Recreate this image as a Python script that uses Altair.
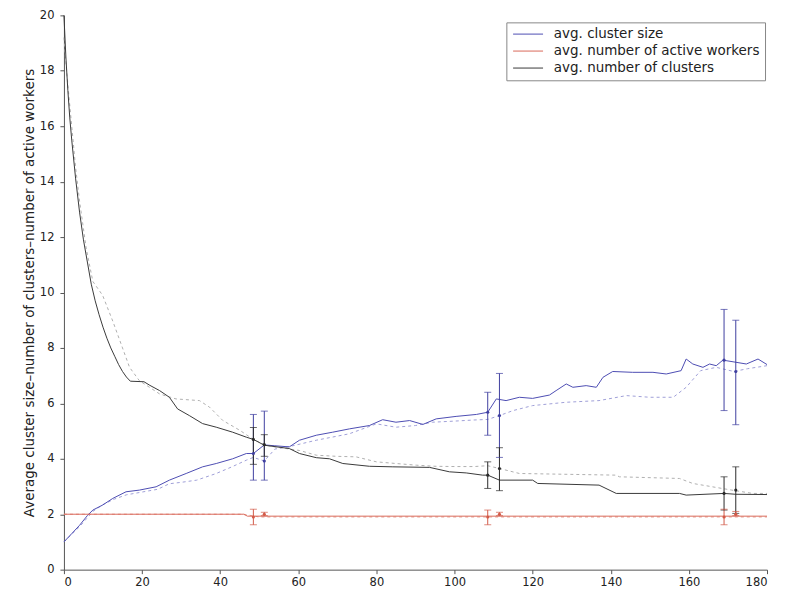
import altair as alt
import pandas as pd

series_names = ["avg. cluster size", "avg. number of active workers", "avg. number of clusters"]
run2_names = ["size run 2", "workers run 2", "clusters run 2"]

# avg. cluster size (solid)
size_x = [0, 2, 4, 6, 7.4, 9.9, 12.5, 15.9, 19.3, 23.6, 27, 31.3, 35.5, 39, 43.2, 46.7, 48.5, 51.3, 54,
          57.7, 60.3, 64.6, 68.8, 73.1, 78.2, 81.6, 85, 88.5, 91.9, 95.3, 100.4, 105.6, 108.5, 110.7,
          113.2, 116.6, 120, 124.3, 126, 128.6, 130.3, 133.7, 136.3, 138, 140.5, 145.6, 150.8, 154.2, 158,
          159.3, 161, 163.6, 165.3, 167, 168.7, 171.3, 174.7, 177.7, 180]
size_y = [1.0, 1.3, 1.6, 1.95, 2.15, 2.33, 2.57, 2.81, 2.87, 2.99, 3.23, 3.47, 3.71, 3.83, 4.0, 4.19, 4.19,
          4.5, 4.47, 4.43, 4.67, 4.85, 4.96, 5.08, 5.2, 5.41, 5.32, 5.38, 5.24, 5.44, 5.53, 5.6, 5.68, 6.16,
          6.1, 6.22, 6.18, 6.3, 6.46, 6.7, 6.58, 6.64, 6.58, 6.94, 7.15, 7.12, 7.12, 7.06, 7.18, 7.6, 7.42,
          7.3, 7.42, 7.36, 7.56, 7.5, 7.42, 7.6, 7.4]

# avg. cluster size (second run, dashed)
size2_x = [0, 4, 7.4, 10, 13, 16, 20, 24, 27, 30, 34, 39, 43, 46.7, 48.5, 51.3, 54, 58, 64.6, 73, 80, 85,
           90, 94.4, 100, 105, 108.5, 111.5, 115, 120, 128.6, 137, 144, 150, 156, 159.3, 163, 167, 171.5,
           175, 180]
size2_y = [1.0, 1.55, 2.1, 2.35, 2.55, 2.7, 2.8, 2.9, 3.1, 3.15, 3.23, 3.47, 3.71, 3.95, 4.05, 3.92, 4.35,
           4.45, 4.67, 4.9, 5.26, 5.14, 5.2, 5.32, 5.36, 5.4, 5.42, 5.56, 5.74, 5.92, 6.04, 6.1, 6.28, 6.22,
           6.22, 6.58, 7.18, 7.3, 7.15, 7.25, 7.36]

# avg. number of clusters (solid)
clus_x = [0, 0.5, 1, 1.5, 2, 3, 4, 5, 6, 7, 8, 9, 10, 11, 12, 13, 14, 15, 16, 17, 20.5, 22, 24.5, 27, 29.1,
          32.1, 35.5, 39, 43.2, 46.7, 48.5, 51.3, 57.7, 60.3, 64.6, 68, 71.4, 78.2, 84.2, 93.6, 98.7, 103,
          107.2, 108.5, 111.5, 120, 121.3, 137, 141.4, 157.6, 159.3, 169, 172, 180]
clus_y = [20, 18.5, 17.3, 16.3, 15.5, 14.1, 12.9, 11.9, 11.1, 10.3, 9.7, 9.2, 8.75, 8.35, 8.0, 7.7, 7.4,
          7.15, 6.95, 6.8, 6.78, 6.65, 6.46, 6.22, 5.8, 5.56, 5.27, 5.14, 4.96, 4.78, 4.7, 4.49, 4.37, 4.19,
          4.04, 4.0, 3.83, 3.73, 3.71, 3.69, 3.53, 3.49, 3.41, 3.41, 3.23, 3.23, 3.11, 3.05, 2.75, 2.75,
          2.69, 2.75, 2.72, 2.71]

# avg. number of clusters (second run, dashed)
clus2_x = [0, 0.5, 1, 2, 3, 4, 5, 5.7, 7.4, 9.9, 12.5, 15, 16.8, 19.3, 24.5, 28.7, 34.7, 37.3, 40.7, 45,
           48.5, 51.3, 53, 60.3, 64.6, 69.7, 74.8, 80, 85, 90.2, 95, 100, 105, 108.5, 111.5, 116.6, 141.4,
           142.2, 157.6, 161, 166, 171, 176.4, 180]
clus2_y = [19.2, 18.3, 17.5, 16.0, 14.5, 13.3, 12.3, 11.6, 10.4, 9.9, 8.97, 8.0, 7.3, 6.82, 6.34, 6.16, 6.1,
           5.86, 5.38, 5.03, 4.7, 4.51, 4.45, 4.3, 4.13, 4.09, 4.07, 3.89, 3.83, 3.77, 3.73, 3.72, 3.72,
           3.75, 3.65, 3.47, 3.41, 3.35, 3.29, 3.11, 2.99, 2.87, 2.75, 2.75]

# avg. number of active workers
work_x = [0, 46, 47, 180]
work_y = [2.0, 2.0, 1.93, 1.93]
work2_x = [0, 46, 50, 180]
work2_y = [2.0, 2.0, 1.9, 1.9]

# error bars
bar_x = [48.5, 51.3, 108.5, 111.5, 169, 172]
bsize_mean = [4.19, 3.92, 5.68, 5.56, 7.56, 7.15]
bsize_lo = [3.23, 3.23, 4.85, 4.05, 5.74, 5.23]
bsize_hi = [5.6, 5.72, 6.4, 7.08, 9.39, 9.0]
bclus_mean = [4.7, 4.51, 3.41, 3.65, 2.75, 2.87]
bclus_lo = [3.8, 4.09, 2.93, 2.85, 2.15, 2.03]
bclus_hi = [5.13, 4.87, 3.89, 4.4, 3.35, 3.71]
bwork_mean = [1.9, 2.0, 1.9, 2.0, 1.9, 2.0]
bwork_lo = [1.62, 1.95, 1.62, 1.95, 1.62, 1.95]
bwork_hi = [2.18, 2.07, 2.15, 2.07, 2.18, 2.1]

x_ticks = [0, 20, 40, 60, 80, 100, 120, 140, 160, 180]
y_ticks = [0, 2, 4, 6, 8, 10, 12, 14, 16, 18, 20]

BLUE, RED, BLACK = "#4d4db3", "#d9695a", "#3a3a3a"
BLUE2, RED2, BLACK2 = "#a0a0d8", "#e8a296", "#b0b0b0"
FONT = "DejaVu Sans"


def frame(xs, ys, name):
    return pd.DataFrame({"x": xs, "v": ys, "series": name})


solid = pd.concat([frame(size_x, size_y, series_names[0]),
                   frame(work_x, work_y, series_names[1]),
                   frame(clus_x, clus_y, series_names[2])])
dashed = pd.concat([frame(size2_x, size2_y, run2_names[0]),
                    frame(work2_x, work2_y, run2_names[1]),
                    frame(clus2_x, clus2_y, run2_names[2])])

bars = pd.concat([
    pd.DataFrame({"x": bar_x, "m": bsize_mean, "lo": bsize_lo, "hi": bsize_hi, "g": "size"}),
    pd.DataFrame({"x": bar_x, "m": bclus_mean, "lo": bclus_lo, "hi": bclus_hi, "g": "clusters"}),
    pd.DataFrame({"x": bar_x, "m": bwork_mean, "lo": bwork_lo, "hi": bwork_hi, "g": "workers"}),
])

xs = alt.Scale(domain=[0, 180], nice=False)
ys = alt.Scale(domain=[0, 20], nice=False)
X = alt.X("x:Q", scale=xs, axis=alt.Axis(values=x_ticks, title=None, grid=False, tickSize=4,
                                         labelPadding=3, labelFont=FONT, labelFontSize=11.5))
Y = alt.Y("v:Q", scale=ys, axis=alt.Axis(values=y_ticks, grid=False, tickSize=4, labelPadding=6,
                                         labelFont=FONT, labelFontSize=11.5,
                                         title="Average cluster size\u2013number of clusters\u2013number of active workers",
                                         titleFont=FONT, titleFontSize=13.5, titleFontWeight="normal",
                                         titlePadding=3, titleColor="#222"))

dash_layer = alt.Chart(dashed).mark_line(strokeWidth=1, strokeDash=[3, 3]).encode(
    x=X, y=Y,
    color=alt.Color("series:N", scale=alt.Scale(domain=run2_names, range=[BLUE2, RED2, BLACK2]), legend=None),
)

solid_layer = alt.Chart(solid).mark_line(strokeWidth=1).encode(
    x=X, y=Y,
    color=alt.Color("series:N", scale=alt.Scale(domain=series_names, range=[BLUE, RED, BLACK]),
                    sort=series_names,
                    legend=alt.Legend(title=None, orient="none", legendX=443, legendY=7,
                                      symbolType="M-1,0H5", symbolSize=100, symbolStrokeWidth=1,
                                      labelOffset=29, labelFont=FONT, labelFontSize=13.5, labelLimit=400,
                                      labelColor="#222", rowPadding=2, padding=5,
                                      strokeColor="#888", fillColor="white")),
)

bar_scale = alt.Scale(domain=["size", "clusters", "workers"], range=["#3f3fa0", "#2a2a2a", "#d25a48"])
bar_color = alt.Color("g:N", scale=bar_scale, legend=None)

rules = alt.Chart(bars).mark_rule(strokeWidth=1).encode(
    x=alt.X("x:Q", scale=xs), y=alt.Y("lo:Q", scale=ys), y2="hi:Q", color=bar_color)
caps_lo = alt.Chart(bars).mark_tick(orient="horizontal", size=7, thickness=1).encode(
    x=alt.X("x:Q", scale=xs), y=alt.Y("lo:Q", scale=ys), color=bar_color)
caps_hi = alt.Chart(bars).mark_tick(orient="horizontal", size=7, thickness=1).encode(
    x=alt.X("x:Q", scale=xs), y=alt.Y("hi:Q", scale=ys), color=bar_color)
dots = alt.Chart(bars).mark_point(filled=True, size=10, opacity=1).encode(
    x=alt.X("x:Q", scale=xs), y=alt.Y("m:Q", scale=ys), color=bar_color)

chart = alt.layer(dash_layer, solid_layer, rules, caps_lo, caps_hi, dots).resolve_scale(
    color="independent"
).properties(
    width=704, height=555,
    autosize=alt.AutoSizeParams(type="none"),
    padding={"left": 56, "top": 7, "right": 12, "bottom": 22},
).configure_view(stroke=None).configure_axis(
    domainColor="#555", tickColor="#555", labelColor="#222"
)

chart.save("out.html", embed_options={"renderer": "svg", "actions": False})
